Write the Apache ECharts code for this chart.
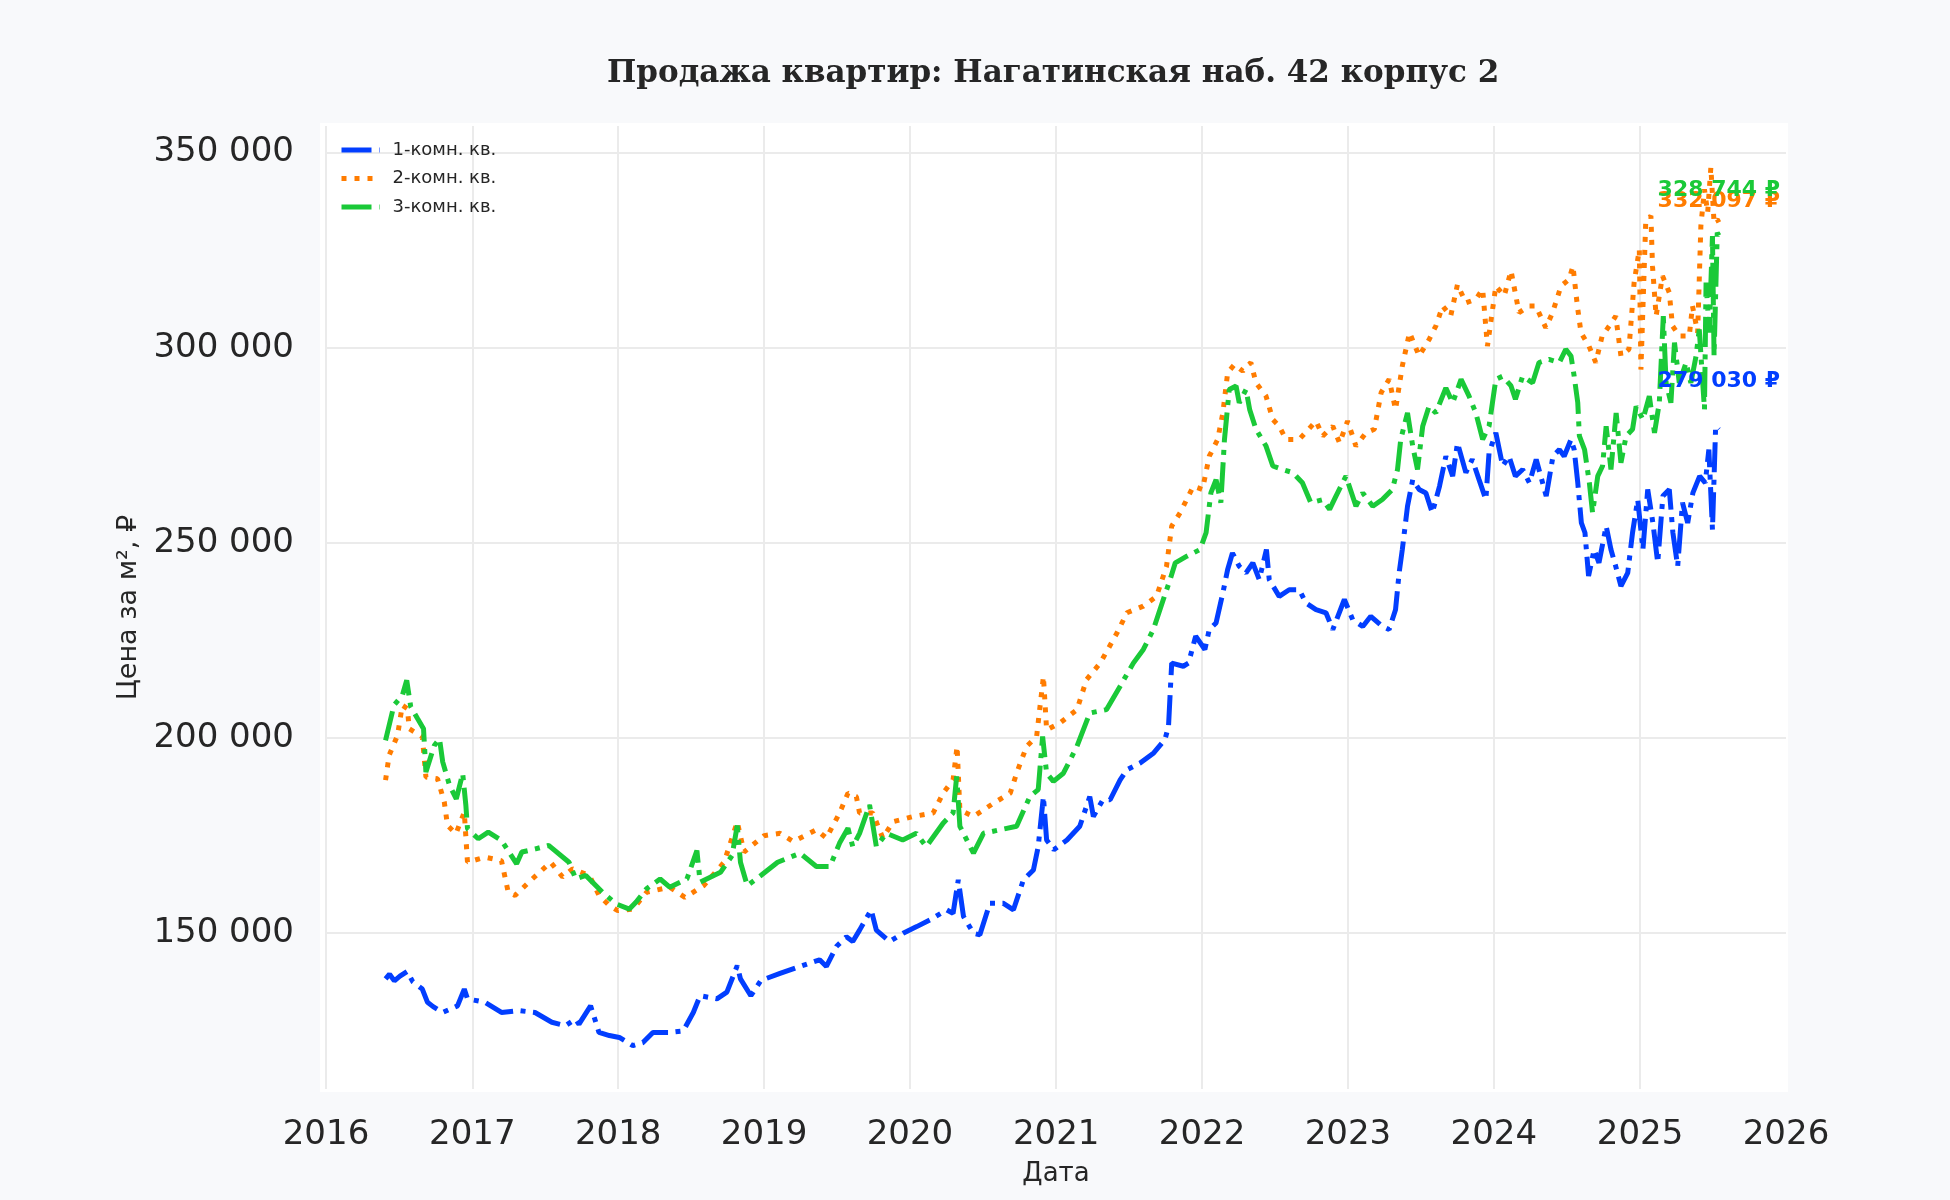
<!DOCTYPE html>
<html>
<head>
<meta charset="utf-8">
<script src="https://cdn.jsdelivr.net/npm/echarts@6/dist/echarts.min.js"></script>
<style>
html,body{margin:0;padding:0;background:#f8f9fb;}
#chart{width:1950px;height:1200px;}
</style>
</head>
<body>
<div id="chart"></div>
<script>
// ---- data ----
const seriesNames = ['1-комн. кв.', '2-комн. кв.', '3-комн. кв.'];
const yTicks = [150000, 200000, 250000, 300000, 350000];
const xTicks = ['2016','2017','2018','2019','2020','2021','2022','2023','2024','2025','2026'];

const dates1 = ['2016-05-29','2016-06-08','2016-06-20','2016-07-04','2016-07-22','2016-08-05','2016-08-29','2016-09-11','2016-09-25','2016-10-19','2016-11-08','2016-11-25','2016-12-12','2016-12-20','2017-02-02','2017-03-15','2017-04-27','2017-06-07','2017-07-19','2017-08-22','2017-09-16','2017-09-25','2017-10-24','2017-11-14','2017-12-10','2018-01-04','2018-02-07','2018-03-04','2018-03-29','2018-05-10','2018-06-13','2018-07-08','2018-07-25','2018-09-05','2018-09-30','2018-10-26','2018-11-03','2018-11-29','2018-12-24','2019-02-10','2019-04-01','2019-05-20','2019-06-06','2019-07-01','2019-07-26','2019-08-11','2019-08-28','2019-09-26','2019-10-09','2019-11-11','2019-12-15','2020-01-18','2020-02-20','2020-04-02','2020-04-18','2020-05-01','2020-05-14','2020-06-08','2020-06-24','2020-07-19','2020-08-21','2020-09-16','2020-10-11','2020-11-05','2020-11-17','2020-11-30','2020-12-08','2020-12-26','2021-01-28','2021-03-01','2021-03-26','2021-04-04','2021-04-28','2021-05-16','2021-06-10','2021-06-27','2021-07-30','2021-09-02','2021-09-30','2021-10-09','2021-10-17','2021-11-15','2021-11-28','2021-12-16','2022-01-08','2022-01-19','2022-02-05','2022-02-22','2022-03-06','2022-03-18','2022-04-04','2022-04-21','2022-05-08','2022-05-24','2022-06-11','2022-06-18','2022-07-13','2022-08-07','2022-09-01','2022-09-18','2022-10-13','2022-11-07','2022-11-24','2022-12-23','2023-01-13','2023-02-07','2023-02-27','2023-03-28','2023-04-14','2023-04-30','2023-05-09','2023-05-17','2023-05-30','2023-06-12','2023-06-28','2023-07-15','2023-07-31','2023-08-18','2023-09-03','2023-09-20','2023-10-02','2023-10-23','2023-11-08','2023-11-25','2023-12-12','2023-12-20','2024-01-06','2024-01-23','2024-02-08','2024-02-24','2024-03-13','2024-03-30','2024-04-16','2024-05-11','2024-05-28','2024-06-13','2024-06-25','2024-07-12','2024-07-20','2024-07-29','2024-08-07','2024-08-16','2024-08-25','2024-09-08','2024-09-20','2024-10-08','2024-10-20','2024-11-01','2024-11-14','2024-12-01','2024-12-13','2024-12-26','2025-01-08','2025-01-20','2025-02-02','2025-02-14','2025-02-27','2025-03-15','2025-03-24','2025-04-05','2025-04-17','2025-04-30','2025-05-13','2025-05-30','2025-06-13','2025-06-22','2025-07-01','2025-07-09','2025-07-17'];
const values1 = [138300,139500,137800,139000,140200,137600,135700,132300,131200,129700,130600,131400,135700,133200,132300,129700,130200,129700,127200,126300,128000,126700,131400,124600,123800,123300,121200,122000,124600,124600,125000,129700,134000,133200,134900,141700,138300,134000,137900,139700,141500,143200,141500,146600,149100,147900,150800,156000,150800,147900,150000,151700,153400,156000,155100,163700,154300,150000,149600,157700,157700,156000,163700,166200,172200,185000,173900,171400,173900,177400,185000,179900,184200,184200,189300,191900,193600,196200,199600,203000,219200,218400,219200,226100,222700,227800,229500,237200,243200,247400,244000,242300,244900,240600,248300,240600,236300,238000,238000,234600,232900,232100,227800,235500,230300,228600,231200,228600,227800,232900,242300,248300,259400,266200,263700,262800,257700,264500,272200,267100,275600,268000,271400,266200,261100,273100,278200,269700,272200,267100,268800,265400,271400,262000,272200,273900,272200,276500,273900,265400,255100,252600,241500,248300,244900,254300,248300,244000,238900,242300,252600,261100,248300,263700,255100,244900,262000,263700,252600,244000,260300,255100,262800,267100,265400,273900,253400,279900,279030];

const dates2 = ['2016-05-29','2016-06-07','2016-06-28','2016-07-10','2016-07-23','2016-07-27','2016-08-17','2016-08-29','2016-09-07','2016-10-06','2016-10-23','2016-10-31','2016-11-21','2016-12-12','2016-12-20','2017-02-02','2017-03-15','2017-04-01','2017-04-18','2017-05-31','2017-07-16','2017-08-15','2017-09-09','2017-10-21','2017-11-14','2017-12-10','2017-12-31','2018-02-07','2018-03-13','2018-05-10','2018-06-17','2018-08-03','2018-09-23','2018-10-26','2018-11-12','2019-01-01','2019-02-10','2019-03-15','2019-05-12','2019-06-06','2019-07-09','2019-07-30','2019-08-20','2019-08-28','2019-09-30','2019-10-25','2019-11-20','2020-01-09','2020-02-28','2020-03-24','2020-04-18','2020-04-28','2020-05-05','2020-06-08','2020-07-28','2020-09-08','2020-09-24','2020-10-19','2020-11-13','2020-11-30','2020-12-08','2021-01-11','2021-02-22','2021-03-18','2021-04-21','2021-06-02','2021-06-27','2021-08-07','2021-09-09','2021-10-04','2021-10-17','2021-11-07','2021-12-10','2022-01-02','2022-01-19','2022-02-09','2022-02-22','2022-03-06','2022-03-23','2022-04-13','2022-05-03','2022-05-16','2022-06-10','2022-06-27','2022-07-13','2022-07-30','2022-09-01','2022-10-13','2022-10-30','2022-11-24','2022-12-11','2022-12-31','2023-01-21','2023-02-15','2023-03-08','2023-03-25','2023-04-14','2023-04-30','2023-05-17','2023-06-04','2023-06-28','2023-07-23','2023-08-09','2023-08-26','2023-09-15','2023-10-02','2023-10-23','2023-11-17','2023-12-04','2023-12-16','2024-01-06','2024-01-27','2024-02-13','2024-03-04','2024-03-29','2024-04-15','2024-05-10','2024-05-27','2024-06-17','2024-07-07','2024-07-17','2024-07-28','2024-08-06','2024-08-26','2024-09-12','2024-09-28','2024-10-16','2024-11-01','2024-11-14','2024-12-04','2024-12-17','2024-12-30','2025-01-03','2025-01-15','2025-01-28','2025-02-01','2025-02-10','2025-02-26','2025-03-15','2025-03-23','2025-04-09','2025-05-04','2025-05-12','2025-05-25','2025-06-02','2025-06-11','2025-06-19','2025-06-27','2025-07-05','2025-07-13','2025-07-17'];
const values2 = [189200,195600,200700,208400,207500,202400,201100,200300,190000,189600,183600,177600,175500,181000,168200,169500,168600,160500,159700,163900,168200,164400,166500,164800,159700,157100,155800,156200,160500,161800,159200,162200,168200,178500,170800,175000,175600,173500,176500,174400,180800,185900,185000,180800,180800,174400,178600,179900,180800,185900,189300,197900,181600,179900,183300,185900,191000,197900,200400,215800,202100,203900,207300,215000,219200,226900,232100,233800,236300,244000,254300,257700,264500,263700,272200,276500,283300,293600,295700,294000,296200,291000,287600,281600,279900,276500,276500,281200,277400,279900,275600,281200,274800,278200,279100,288500,291900,284200,295300,303900,297900,302100,305600,310700,308100,316200,311500,312400,315000,300400,315800,313300,319700,309000,310700,310700,305100,309000,315800,317500,320900,310700,303900,300400,296200,303000,305600,308100,297900,299600,316700,325200,294400,332100,333800,320900,308100,318400,314100,305600,303000,303000,310700,303900,331200,340600,334600,346200,332100,332900,332097];

const dates3 = ['2016-05-29','2016-06-19','2016-07-10','2016-07-21','2016-07-31','2016-08-17','2016-09-01','2016-09-07','2016-09-28','2016-10-11','2016-10-19','2016-11-05','2016-11-22','2016-12-08','2016-12-16','2016-12-20','2017-01-16','2017-02-10','2017-03-15','2017-04-22','2017-05-05','2017-06-08','2017-07-11','2017-08-31','2017-09-17','2017-10-12','2017-11-23','2017-12-27','2018-01-29','2018-02-15','2018-03-13','2018-04-16','2018-05-10','2018-06-22','2018-07-17','2018-07-25','2018-09-14','2018-10-13','2018-10-26','2018-11-03','2018-11-20','2018-12-24','2019-02-04','2019-04-01','2019-05-12','2019-06-15','2019-07-09','2019-07-30','2019-08-11','2019-08-28','2019-09-22','2019-10-09','2019-11-03','2019-12-14','2020-01-17','2020-02-11','2020-03-24','2020-04-18','2020-04-27','2020-05-05','2020-06-08','2020-07-03','2020-08-13','2020-09-24','2020-10-27','2020-11-17','2020-11-28','2020-12-08','2020-12-25','2021-01-19','2021-02-22','2021-03-26','2021-05-07','2021-06-10','2021-07-13','2021-08-07','2021-09-01','2021-09-26','2021-10-13','2021-10-26','2021-11-24','2021-12-27','2022-01-11','2022-01-23','2022-02-05','2022-02-17','2022-02-26','2022-03-10','2022-03-27','2022-04-04','2022-04-21','2022-04-30','2022-05-16','2022-06-10','2022-06-27','2022-07-22','2022-08-16','2022-09-09','2022-09-30','2022-10-30','2022-11-16','2022-12-02','2022-12-27','2023-01-21','2023-02-07','2023-03-04','2023-03-28','2023-04-22','2023-05-05','2023-05-13','2023-05-30','2023-06-12','2023-06-24','2023-07-07','2023-07-23','2023-08-09','2023-09-03','2023-09-20','2023-10-11','2023-10-31','2023-11-17','2023-12-04','2023-12-20','2024-01-06','2024-01-23','2024-02-13','2024-02-24','2024-03-13','2024-04-07','2024-04-23','2024-05-18','2024-06-13','2024-06-29','2024-07-12','2024-07-20','2024-07-29','2024-08-02','2024-08-15','2024-08-27','2024-09-04','2024-09-17','2024-09-29','2024-10-08','2024-10-20','2024-11-02','2024-11-14','2024-11-27','2024-12-13','2024-12-22','2025-01-08','2025-01-24','2025-02-06','2025-02-18','2025-02-28','2025-03-07','2025-03-19','2025-03-28','2025-04-09','2025-04-26','2025-05-08','2025-05-21','2025-05-29','2025-06-11','2025-06-15','2025-06-23','2025-07-01','2025-07-05','2025-07-13','2025-07-17'];
const values3 = [199400,208400,210900,214800,208000,205000,202400,191300,198100,199800,193900,187900,184400,190900,182700,176800,174200,175900,173800,167800,170800,171600,172500,168200,163900,164800,160500,157500,156200,158000,161400,163900,161800,163900,171200,163100,165600,169900,177600,168200,162200,164800,168200,170500,167100,167100,173100,176900,172200,175600,182900,172200,175600,173900,175600,172200,178200,180800,190200,177400,170500,175600,176500,177400,185000,186800,200400,191000,188900,191000,197900,206400,207300,213300,219200,222700,227800,235500,240600,244900,246600,248300,252600,262800,266200,260300,276500,289300,290200,285900,289300,284200,279100,274800,269700,268800,268000,265400,260300,261100,258600,262000,267100,259400,262800,259400,261100,263700,268800,276500,283300,274800,268800,279900,285000,283300,289700,285900,291900,287600,283300,276500,279900,291900,292700,290200,286800,292700,291000,296200,297000,296200,299600,297900,292700,285900,277400,273900,265400,257700,267100,269700,279900,268800,283300,270500,277400,279100,285000,281600,287600,278200,285900,308100,291000,285900,301300,291000,296200,291000,297900,304700,284200,316700,303900,328600,297900,329500,328744];

// ---- presentation ----
const colors = ['#023eff', '#ff7c00', '#1ac938'];
const labelOffsets = [[0, -48], [0, -21], [0, -45]];
const FONT = 'DejaVu Sans';

function fmt(v) { return String(Math.round(v)).replace(/\B(?=(\d{3})+(?!\d))/g, ' '); }

const allDates = [dates1, dates2, dates3];
const allValues = [values1, values2, values3];
const dashes = [[30, 7.5, 5, 7.5], [5, 8], [30, 7.5, 5, 7.5]];

const series = seriesNames.map((name, i) => {
  const d = allDates[i], v = allValues[i];
  const n = d.length - 1;
  return {
    name: name,
    type: 'line',
    data: d.map((t, k) => [t, v[k]]),
    showSymbol: false,
    symbol: 'none',
    z: 3 + (i === 1 ? 0 : 1),
    lineStyle: { color: colors[i], width: 5, type: dashes[i], cap: 'butt' },
    itemStyle: { color: colors[i] },
    markPoint: {
      symbol: 'rect', symbolSize: 1,
      itemStyle: { color: 'rgba(0,0,0,0)' },
      label: {
        show: true, position: 'inside', offset: labelOffsets[i],
        color: colors[i], fontFamily: FONT, fontWeight: 'bold', fontSize: 22,
        formatter: p => fmt(p.value) + ' ₽'
      },
      data: [{ coord: [d[n], v[n]], value: v[n] }]
    }
  };
});

const chart = echarts.init(document.getElementById('chart'), null, { renderer: 'canvas' });
chart.setOption({
  animation: false,
  backgroundColor: '#f8f9fb',
  title: {
    text: 'Продажа квартир: Нагатинская наб. 42 корпус 2',
    left: 607, top: 58, padding: 0,
    textStyle: { fontFamily: 'DejaVu Serif', fontWeight: 'bold', fontSize: 31, color: '#262626' }
  },
  graphic: [{
    type: 'rect', z: -1, silent: true,
    shape: { x: 320, y: 123, width: 1468, height: 969 },
    style: { fill: '#ffffff' }
  }],
  legend: {
    orient: 'vertical', left: 339, top: 141,
    padding: 0, itemWidth: 38, itemHeight: 14, itemGap: 10.5,
    itemStyle: { opacity: 0 },
    lineStyle: { width: 5 },
    textStyle: { fontFamily: FONT, fontSize: 18, color: '#262626', padding: [0, 0, 0, 8] },
    data: seriesNames
  },
  grid: { left: 326, right: 164, top: 126, bottom: 111, containLabel: false },
  xAxis: {
    type: 'time',
    min: xTicks[0] + '-01-01', max: xTicks[xTicks.length - 1] + '-01-01',
    splitNumber: 10,
    minInterval: 365 * 24 * 3600 * 1000,
    name: 'Дата', nameLocation: 'middle', nameGap: 72,
    nameTextStyle: { fontFamily: FONT, fontSize: 26, color: '#262626' },
    axisLine: { show: false }, axisTick: { show: false },
    axisLabel: { formatter: '{yyyy}', fontFamily: FONT, fontSize: 34, color: '#262626', margin: 29, hideOverlap: false, showMinLabel: true, showMaxLabel: true },
    splitLine: { show: true, showMaxLine: false, lineStyle: { color: '#ebebeb', width: 2 } }
  },
  yAxis: {
    type: 'value',
    min: 110100, max: 356800, splitNumber: 5,
    name: 'Цена за м², ₽', nameLocation: 'middle', nameGap: 168, nameRotate: 90,
    nameTextStyle: { fontFamily: FONT, fontSize: 27, color: '#262626' },
    axisLine: { show: false }, axisTick: { show: false },
    axisLabel: {
      fontFamily: FONT, fontSize: 34, color: '#262626', margin: 32,
      padding: [10, 0, 0, 0],
      showMinLabel: false, showMaxLabel: false,
      formatter: v => (yTicks.indexOf(v) >= 0 ? fmt(v) : '')
    },
    splitLine: { show: true, showMinLine: false, showMaxLine: false, lineStyle: { color: '#ebebeb', width: 2 } }
  },
  series: series
});
</script>
</body>
</html>
